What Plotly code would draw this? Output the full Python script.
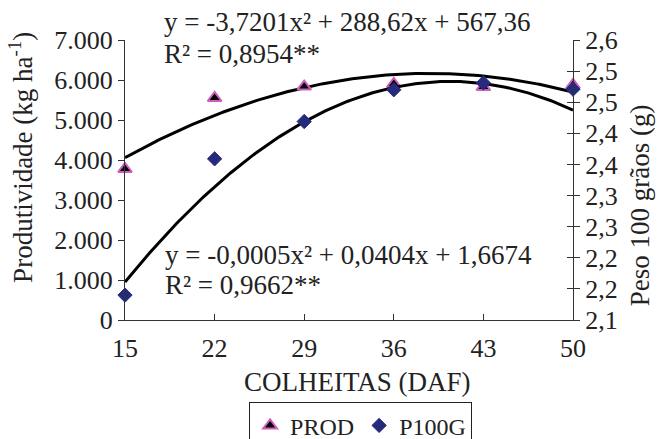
import numpy as np
import plotly.graph_objects as go

# Harvest dates (days after flowering)
colheitas = [15, 22, 29, 36, 43, 50]
# Yield (kg/ha) and 100-grain weight (g)
prod = [3775, 5550, 5835, 5900, 5825, 5875]
p100g = [2.140, 2.359, 2.419, 2.470, 2.481, 2.471]

# Quadratic trend coefficients (a, b, c) for y = a*x^2 + b*x + c
coef_prod = (-3.7201, 288.62, 567.36)
coef_p100g = (-0.0005, 0.0404, 1.6674)

left_ticks = [0, 1000, 2000, 3000, 4000, 5000, 6000, 7000]
left_ticktext = ["0", "1.000", "2.000", "3.000", "4.000", "5.000", "6.000", "7.000"]
right_ticks = [2.10, 2.15, 2.20, 2.25, 2.30, 2.35, 2.40, 2.45, 2.50, 2.55]
right_ticktext = ["2,1", "2,2", "2,2", "2,3", "2,3", "2,4", "2,4", "2,5", "2,5", "2,6"]

FONT = "Liberation Serif, Times New Roman, serif"
PINK = "#cc5fbd"
NAVY = "#262a7c"
TXT = "#222"

xs = np.linspace(min(colheitas), max(colheitas), 200)
def quad(c, x):
    return c[0] * x ** 2 + c[1] * x + c[2]

fig = go.Figure()

fig.add_trace(go.Scatter(x=xs, y=quad(coef_prod, xs), mode="lines",
                         line=dict(color="black", width=3), showlegend=False,
                         hoverinfo="skip", yaxis="y"))
fig.add_trace(go.Scatter(x=xs, y=quad(coef_p100g, xs), mode="lines",
                         line=dict(color="black", width=3), showlegend=False,
                         hoverinfo="skip", yaxis="y2"))

fig.add_trace(go.Scatter(x=colheitas, y=prod, mode="markers", name="PROD",
                         marker=dict(symbol="triangle-up", size=12, color="black",
                                     line=dict(color=PINK, width=2)),
                         cliponaxis=False, yaxis="y"))
fig.add_trace(go.Scatter(x=colheitas, y=p100g, mode="markers", name="P100G",
                         marker=dict(symbol="diamond", size=11, color=NAVY,
                                     line=dict(color=NAVY, width=1)),
                         cliponaxis=False, yaxis="y2"))

# invisible trace that carries the crossing tick marks of the right axis
fig.add_trace(go.Scatter(x=[15], y=[2.1], yaxis="y3", mode="markers",
                         marker=dict(opacity=0), showlegend=False, hoverinfo="skip"))

tick_font = dict(family=FONT, size=26, color=TXT)

fig.update_layout(
    width=658, height=439,
    margin=dict(l=125, r=85, t=40, b=119, autoexpand=False),
    paper_bgcolor="white", plot_bgcolor="white",
    font=dict(family=FONT, size=27, color=TXT),
    xaxis=dict(range=[15, 50], tickvals=colheitas, ticks="inside", ticklen=6,
               tickcolor="#333", showline=True, linecolor="#333", linewidth=1,
               showgrid=False, zeroline=False, tickfont=tick_font,
               ticklabelstandoff=5),
    yaxis=dict(range=[0, 7000], tickvals=left_ticks, ticktext=left_ticktext,
               ticks="outside", ticklen=6, tickcolor="#333", showline=True,
               linecolor="#333", linewidth=1, showgrid=False, zeroline=False,
               tickfont=tick_font),
    yaxis2=dict(range=[2.1, 2.55], tickvals=right_ticks, ticktext=right_ticktext,
                overlaying="y", side="right", anchor="x", ticks="outside", ticklen=6,
                tickcolor="#333", showline=True, linecolor="#333", linewidth=1,
                showgrid=False, zeroline=False, tickfont=tick_font),
    yaxis3=dict(range=[2.1, 2.55], tickvals=right_ticks, overlaying="y",
                side="right", anchor="x", ticks="inside", ticklen=6,
                tickcolor="#333", showticklabels=False, showline=False,
                showgrid=False, zeroline=False),
    legend=dict(orientation="h", x=0.277, xanchor="left", y=-0.294, yanchor="top",
                bordercolor="#222", borderwidth=1, font=dict(family=FONT, size=24),
                itemwidth=30, tracegroupgap=0),
    showlegend=True,
)

def note(text, x, y, xshift=0, **kw):
    return dict(text=text, xref="paper", yref="paper", x=x, y=y, xshift=xshift,
                yanchor="middle", showarrow=False, **kw)

annotations = [
    note("Produtividade (kg ha<sup>-1</sup>)", 0, 0.579, -104, xanchor="center",
         textangle=-90, font=dict(family=FONT, size=27)),
    note("Peso 100 grãos (g)", 1, 0.41, 67, xanchor="center",
         textangle=-90, font=dict(family=FONT, size=27)),
    note("COLHEITAS (DAF)", 0.518, -0.221, xanchor="center",
         font=dict(family=FONT, size=27)),
    note("y = -3,7201x² + 288,62x + 567,36", 0, 1.064, 37, xanchor="left"),
    note("R² = 0,8954**", 0, 0.95, 37, xanchor="left"),
    note("y = -0,0005x² + 0,0404x + 1,6674", 0, 0.232, 38, xanchor="left"),
    note("R² = 0,9662**", 0, 0.125, 38, xanchor="left"),
]
fig.update_layout(annotations=annotations)

fig.write_html("out.html")
